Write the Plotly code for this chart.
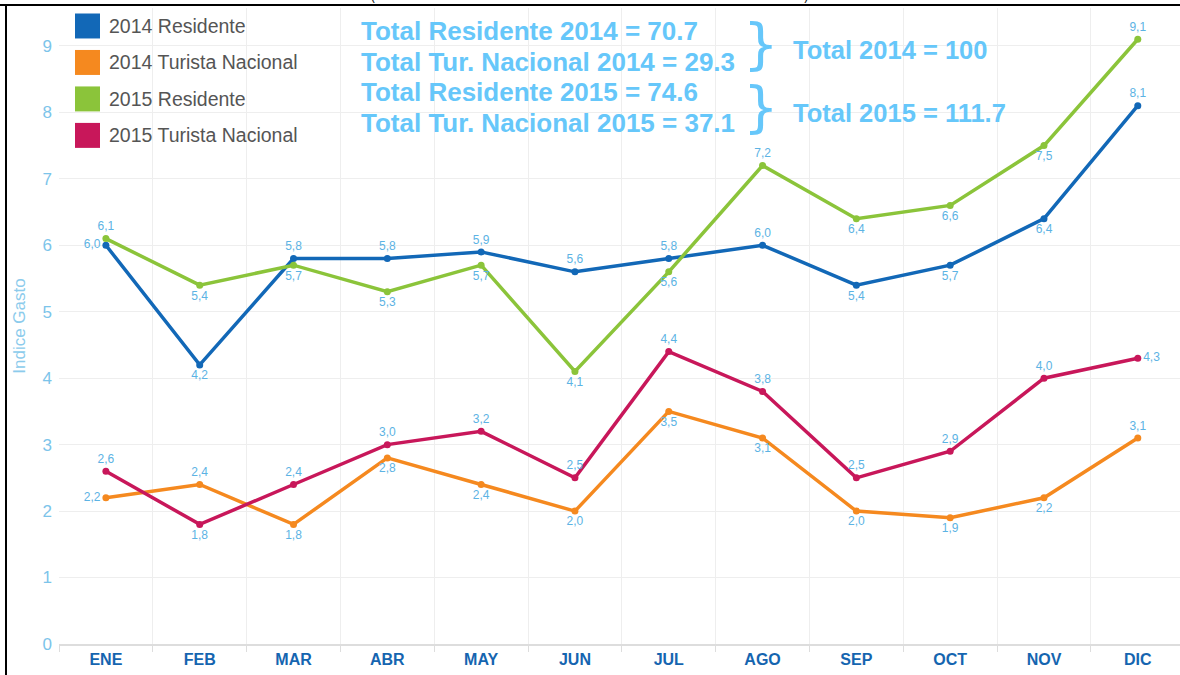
import plotly.graph_objects as go

meses = ['ENE', 'FEB', 'MAR', 'ABR', 'MAY', 'JUN', 'JUL', 'AGO', 'SEP',
         'OCT', 'NOV', 'DIC']

res_2014 = [6.0, 4.2, 5.8, 5.8, 5.9, 5.6, 5.8, 6.0, 5.4, 5.7, 6.4, 8.1]
tur_2014 = [2.2, 2.4, 1.8, 2.8, 2.4, 2.0, 3.5, 3.1, 2.0, 1.9, 2.2, 3.1]
res_2015 = [6.1, 5.4, 5.7, 5.3, 5.7, 4.1, 5.6, 7.2, 6.4, 6.6, 7.5, 9.1]
tur_2015 = [2.6, 1.8, 2.4, 3.0, 3.2, 2.5, 4.4, 3.8, 2.5, 2.9, 4.0, 4.3]

nombres = ['2014 Residente', '2014 Turista Nacional', '2015 Residente',
           '2015 Turista Nacional']
colores = ['#1268b7', '#f5891f', '#8bc43a', '#c8175a']

totales = ['Total Residente 2014 = 70.7', 'Total Tur. Nacional 2014 = 29.3',
           'Total Residente 2015 = 74.6', 'Total Tur. Nacional 2015 = 37.1']
totales_anio = ['Total 2014 = 100', 'Total 2015 = 111.7']

T, B, L, R = 'top center', 'bottom center', 'middle left', 'middle right'
posiciones = [
    [L, B, T, T, T, T, T, T, B, B, B, T],
    [L, T, B, B, B, B, B, B, B, B, B, T],
    [T, B, B, B, B, B, B, T, B, B, B, T],
    [T, B, T, T, T, T, T, T, T, T, T, R],
]

label_color = '#5cb3e4'
total_color = '#66c7fa'
fuente = 'Helvetica, Liberation Sans, Arial'

fig = go.Figure()
for nombre, serie, color, pos in zip(nombres,
                                     [res_2014, tur_2014, res_2015, tur_2015],
                                     colores, posiciones):
    fig.add_trace(go.Scatter(
        x=meses, y=serie, name=nombre,
        mode='lines+markers+text',
        text=[f'{v:.1f}'.replace('.', ',') for v in serie],
        textposition=pos,
        textfont=dict(size=12, color=label_color, family=fuente),
        line=dict(color=color, width=3.5),
        marker=dict(color=color, size=7),
        cliponaxis=False,
        showlegend=False
    ))

# hand-drawn legend with large square swatches
shapes = []
annotations = []
y_px0, y_step = 26, 36.5
plot_top, plot_h = 8, 636.5
plot_left, plot_w = 59, 1121


def px(x):
    return (x - plot_left) / plot_w


def py(y):
    return 1 - (y - plot_top) / plot_h


for i, (nombre, color) in enumerate(zip(nombres, colores)):
    yc = y_px0 + i * y_step
    shapes.append(dict(type='rect', xref='paper', yref='paper',
                       x0=px(75), x1=px(100), y0=py(yc - 12.5),
                       y1=py(yc + 12.5), fillcolor=color,
                       line=dict(width=0)))
    annotations.append(dict(text=nombre, xref='paper', yref='paper',
                            x=px(107), y=py(yc), xanchor='left',
                            yanchor='middle', showarrow=False,
                            font=dict(size=19.5, color='#555555',
                                      family=fuente)))

for i, t in enumerate(totales):
    annotations.append(dict(text='<b>' + t + '</b>', xref='paper',
                            yref='paper', x=px(359), y=py(31 + i * 30.7),
                            xanchor='left', yanchor='middle',
                            showarrow=False,
                            font=dict(size=26, color=total_color,
                                      family=fuente)))

for i, t in enumerate(totales_anio):
    yc = [50, 113][i]
    annotations.append(dict(text='<b>' + t + '</b>', xref='paper',
                            yref='paper', x=px(791), y=py(yc),
                            xanchor='left', yanchor='middle',
                            showarrow=False,
                            font=dict(size=25.5, color=total_color,
                                      family=fuente)))
    annotations.append(dict(text='}', xref='paper', yref='paper',
                            x=px(741), y=py([44, 107][i]), xanchor='left',
                            yanchor='middle', showarrow=False,
                            font=dict(size=56, color=total_color,
                                      family='DejaVu Sans')))

# cut-off title fragments and frame
annotations.append(dict(text='(', xref='paper', yref='paper', x=px(369),
                        y=py(6), xanchor='left', yanchor='bottom',
                        showarrow=False, font=dict(size=14, color='#222')))
annotations.append(dict(text=')', xref='paper', yref='paper', x=px(802),
                        y=py(6), xanchor='left', yanchor='bottom',
                        showarrow=False, font=dict(size=14, color='#222')))
shapes.append(dict(type='line', xref='paper', yref='paper', x0=px(0),
                   x1=px(1180), y0=py(5), y1=py(5),
                   line=dict(color='black', width=2)))
shapes.append(dict(type='line', xref='paper', yref='paper', x0=px(6),
                   x1=px(6), y0=py(5), y1=py(680),
                   line=dict(color='black', width=2)))

fig.update_layout(
    width=1180,
    height=675,
    margin=dict(l=59, r=0, t=8, b=31),
    plot_bgcolor='white',
    paper_bgcolor='white',
    shapes=shapes,
    annotations=annotations,
    xaxis=dict(
        range=[-0.5, 11.45],
        automargin=False,
        tickson='boundaries',
        ticks='outside', ticklen=6, tickcolor='#dddddd',
        showgrid=True, gridcolor='#eeeeee',
        showline=True, linecolor='#dddddd', linewidth=1.5,
        tickfont=dict(size=16, color='#1565b0', family=fuente),
        tickprefix='<b>', ticksuffix='</b>',
    ),
    yaxis=dict(
        range=[0, 9.57],
        dtick=1,
        automargin=False,
        showgrid=True, gridcolor='#eeeeee',
        zeroline=False,
        tickfont=dict(size=17, color='#7cc4ea', family=fuente),
        ticklabelstandoff=6,
        title=dict(text='Indice Gasto', standoff=12,
                   font=dict(size=17, color='#8ccbec', family=fuente)),
    ),
)

# the page body has a default 8px margin; drop it so the figure sits at 0,0
fig.write_html('out.html', config=dict(displayModeBar=False),
               post_script="document.body.style.margin='0';")
